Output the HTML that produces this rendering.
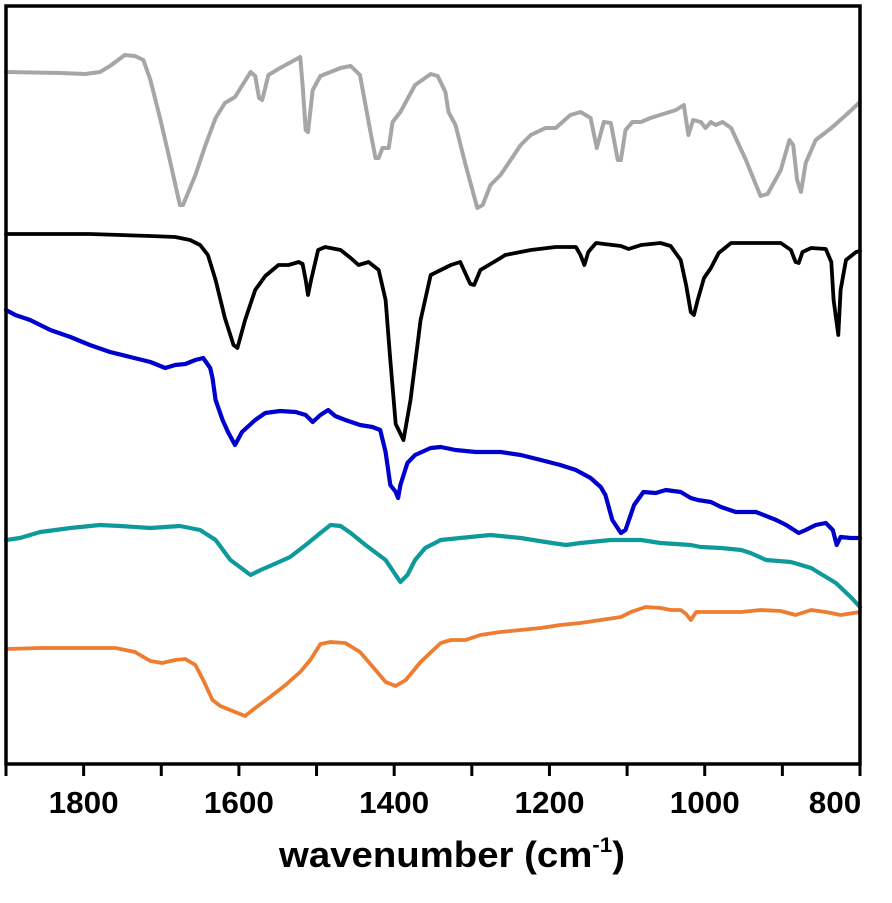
<!DOCTYPE html>
<html><head><meta charset="utf-8"><style>
html,body{margin:0;padding:0;background:#fff;}
svg{display:block;}
text{font-family:"Liberation Sans",sans-serif;font-weight:bold;fill:#000;}
</style></head>
<body>
<svg id="chart" width="892" height="903" viewBox="0 0 892 903" xmlns="http://www.w3.org/2000/svg">
<g id="series"></g>
<rect x="6" y="6" width="854" height="758" fill="none" stroke="#000" stroke-width="3.5"/>
<g id="axis"></g>
<text x="452" y="867" text-anchor="middle" font-size="36" textLength="346" lengthAdjust="spacingAndGlyphs">wavenumber (cm<tspan font-size="21" dy="-15">-1</tspan><tspan dy="15">)</tspan></text>
</svg>
<script>
const xTicks = [1900,1800,1700,1600,1500,1400,1300,1200,1100,1000,900,800];
const xTickLabels = ["1800","1600","1400","1200","1000","800"];
const xLabelValues = [1800,1600,1400,1200,1000,800];
const grayW=[1900,1830,1798,1779,1766,1747,1734,1723,1714,1701,1689,1676,1672,1656,1643,1630,1618,1605,1585,1579,1574,1570,1562,1547,1521,1518,1514,1511,1505,1495,1469,1456,1444,1431,1424,1420,1415,1407,1402,1392,1373,1353,1344,1334,1330,1321,1308,1293,1286,1276,1263,1250,1237,1224,1205,1192,1173,1160,1147,1139,1130,1121,1112,1108,1102,1093,1082,1070,1037,1027,1021,1015,1005,999,992,986,977,966,947,934,928,919,902,891,886,881,876,870,857,837,818,800];
const grayV=[692,691,690,692,698,709,708,704,684,644,604,559,559,589,619,646,661,667,692,688,666,664,689,696,707,679,634,632,674,688,696,698,689,634,606,606,616,616,642,652,679,690,688,672,652,639,599,556,559,579,589,604,619,629,636,636,649,652,646,616,642,641,604,604,634,642,642,646,654,659,629,644,642,636,642,639,642,636,604,579,568,570,594,624,619,584,572,601,624,636,649,662];
const blackW=[1900,1856,1792,1714,1682,1663,1650,1640,1630,1618,1607,1602,1592,1579,1566,1549,1536,1523,1518,1514,1511,1507,1498,1489,1469,1456,1446,1433,1420,1411,1405,1398,1388,1379,1366,1353,1327,1315,1302,1297,1289,1263,1257,1224,1192,1173,1166,1160,1155,1150,1140,1108,1098,1082,1057,1044,1031,1024,1018,1014,1009,1001,992,982,966,902,889,883,879,874,863,844,837,834,828,825,818,805,800];
const blackV=[530,530,530,528,527,524,519,509,484,446,419,416,444,474,488,499,499,502,500,484,469,484,514,517,514,506,499,502,494,464,404,340,324,364,444,489,499,502,480,479,494,506,509,514,517,517,517,509,499,512,521,518,515,519,521,518,504,479,452,449,464,486,496,511,521,521,514,502,501,512,516,515,502,464,429,474,504,512,513];
const blueW=[1900,1888,1869,1843,1817,1792,1766,1740,1714,1695,1682,1669,1656,1646,1637,1634,1630,1621,1614,1605,1596,1579,1566,1547,1527,1514,1505,1495,1485,1476,1463,1444,1428,1418,1411,1405,1398,1395,1392,1383,1373,1353,1340,1321,1295,1263,1237,1211,1186,1166,1147,1134,1128,1119,1108,1102,1091,1079,1063,1050,1031,1018,1009,992,979,960,934,908,895,879,870,857,844,835,830,825,812,800];
const blueV=[454,449,444,434,427,419,412,407,402,396,399,400,404,406,396,386,364,344,332,319,332,344,351,353,352,349,342,349,354,348,344,339,337,334,312,279,272,266,279,301,309,316,317,314,312,312,309,304,299,294,286,277,269,244,231,234,259,272,271,274,272,266,264,262,257,252,252,244,239,231,234,239,241,234,219,227,226,226];
const tealW=[1900,1882,1856,1817,1779,1753,1714,1676,1650,1630,1611,1585,1572,1560,1534,1514,1495,1482,1469,1456,1437,1411,1392,1383,1373,1360,1340,1315,1276,1237,1205,1179,1160,1121,1082,1057,1018,1005,979,953,941,921,889,863,831,812,800];
const tealV=[224,226,232,236,239,238,236,238,234,224,204,189,194,198,207,219,231,239,238,231,219,204,182,189,204,216,224,226,229,226,222,219,221,224,224,221,219,217,216,214,211,204,202,196,181,167,157];
const orangeW=[1900,1856,1805,1759,1734,1714,1699,1682,1669,1656,1646,1634,1624,1605,1592,1579,1560,1540,1521,1508,1495,1482,1463,1444,1424,1411,1398,1385,1366,1340,1327,1308,1289,1263,1237,1211,1186,1160,1134,1108,1095,1076,1057,1044,1031,1024,1018,1011,979,953,928,902,883,863,844,825,800];
const orangeV=[115,116,116,116,112,103,101,104,105,99,84,64,58,52,48,56,67,79,92,104,120,122,121,112,94,82,78,84,102,121,124,124,129,132,134,136,139,141,144,147,152,157,156,154,154,150,144,152,152,152,154,153,149,154,152,149,152];

const NS="http://www.w3.org/2000/svg";
const X0=6, X1=860, Y0=764, Y1=6;
function xScale(w){return X0+(1900-w)*(X1-X0)/1100;}
function yScale(v){return Y0-v*(Y0-Y1)/758;}

const sg=document.getElementById('series');
function drawLine(ws,vs,color,name,width){
  let d='';
  for(let i=0;i<ws.length;i++){d+=(i?'L':'M')+xScale(ws[i]).toFixed(1)+','+yScale(vs[i]).toFixed(1);}
  const p=document.createElementNS(NS,'path');
  p.setAttribute('d',d);p.setAttribute('fill','none');p.setAttribute('stroke',color);
  p.setAttribute('stroke-width',width);p.setAttribute('stroke-linejoin','round');p.setAttribute('stroke-linecap','round');
  
  
  sg.appendChild(p);
}
drawLine(grayW,grayV,'#a6a6a6','gray-spectrum',4);
drawLine(blackW,blackV,'#000000','black-spectrum',3.8);
drawLine(blueW,blueV,'#0000cc','blue-spectrum',4.2);
drawLine(tealW,tealV,'#0e9a9a','teal-spectrum',4.2);
drawLine(orangeW,orangeV,'#ee7d31','orange-spectrum',3.8);

const ax=document.getElementById('axis');
xTicks.forEach(t=>{
  const l=document.createElementNS(NS,'line');
  const x=xScale(t);
  l.setAttribute('x1',x);l.setAttribute('x2',x);l.setAttribute('y1',764);l.setAttribute('y2',776);
  l.setAttribute('stroke','#000');l.setAttribute('stroke-width',3);
  
  
  ax.appendChild(l);
});
xLabelValues.forEach((v,i)=>{
  const t=document.createElementNS(NS,'text');
  let x=xScale(v);
  if(v===800) x-=25;
  t.setAttribute('x',x);t.setAttribute('y',813);t.setAttribute('font-size','31');
  t.setAttribute('text-anchor','middle');
  t.setAttribute('textLength', xTickLabels[i].length*17.5);
  t.setAttribute('lengthAdjust','spacingAndGlyphs');
  t.textContent=xTickLabels[i];
  
  
  ax.appendChild(t);
});
</script>
</body></html>
